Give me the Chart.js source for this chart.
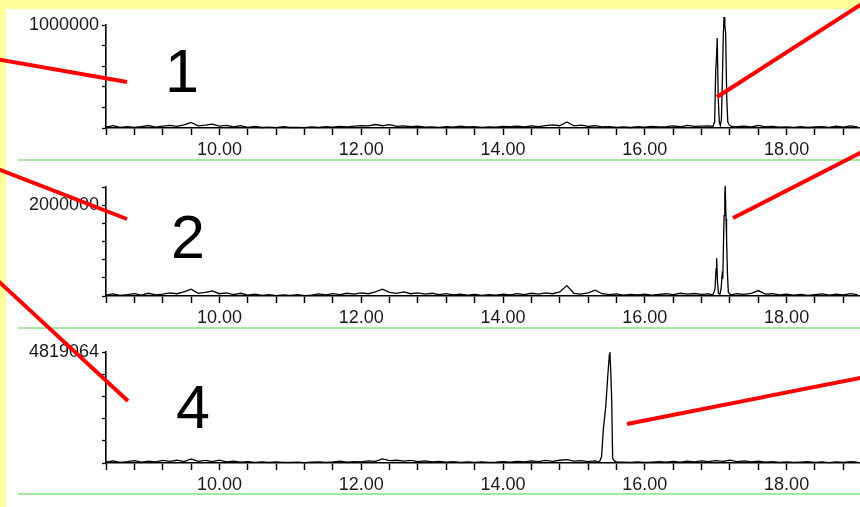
<!DOCTYPE html>
<html>
<head>
<meta charset="utf-8">
<script src="https://cdn.jsdelivr.net/npm/chart.js@4"></script>
<style>
  html, body { margin: 0; padding: 0; }
  body { width: 860px; height: 507px; background: #ffff99; position: relative; overflow: hidden; }
  #paper { position: absolute; left: 6px; top: 9px; width: 854px; height: 498px; background: #fff; }
  canvas { position: absolute; left: 0; top: 0; }
  #overlay { position: absolute; left: 0; top: 0; }
</style>
</head>
<body>
<div id="paper"></div>
<canvas id="c1" width="860" height="507"></canvas>
<canvas id="c2" width="860" height="507"></canvas>
<canvas id="c3" width="860" height="507"></canvas>
<svg id="overlay" width="860" height="507">
  <g stroke="#a6e89e" stroke-width="2">
    <line x1="18" y1="160" x2="860" y2="160"/>
    <line x1="18" y1="328" x2="860" y2="328"/>
    <line x1="18" y1="494" x2="860" y2="494"/>
  </g>
  <g font-family="'Liberation Sans', Arial, sans-serif" font-size="61" fill="#000" text-anchor="middle">
    <text x="182" y="92">1</text>
    <text x="188" y="258">2</text>
    <text x="193" y="428">4</text>
  </g>
  <g stroke="#ff0000" stroke-width="4" stroke-linecap="butt">
    <line x1="-10" y1="58" x2="127" y2="82"/>
    <line x1="717" y1="97" x2="868" y2="0"/>
    <line x1="-5" y1="168" x2="127" y2="219"/>
    <line x1="733" y1="218" x2="870" y2="148"/>
    <line x1="-5" y1="278" x2="128" y2="401"/>
    <line x1="627" y1="424" x2="870" y2="376"/>
  </g>
</svg>
<script>
// retention time (min) of the sampled baseline
const baseTimes = [
  8.4, 8.5, 8.6, 8.7, 8.8, 8.9,
  9.0, 9.1, 9.2, 9.3, 9.4, 9.5, 9.6, 9.7, 9.8, 9.9,
  10.0, 10.1, 10.2, 10.3, 10.4, 10.5, 10.6, 10.7, 10.8, 10.9,
  11.0, 11.1, 11.2, 11.3, 11.4, 11.5, 11.6, 11.7, 11.8, 11.9,
  12.0, 12.1, 12.2, 12.3, 12.4, 12.5, 12.6, 12.7, 12.8, 12.9,
  13.0, 13.1, 13.2, 13.3, 13.4, 13.5, 13.6, 13.7, 13.8, 13.9,
  14.0, 14.1, 14.2, 14.3, 14.4, 14.5, 14.6, 14.7, 14.8, 14.9,
  15.0, 15.1, 15.2, 15.3, 15.4, 15.5, 15.6, 15.7, 15.8, 15.9,
  16.0, 16.1, 16.2, 16.3, 16.4, 16.5, 16.6, 16.7, 16.8, 16.9,
  17.0, 17.1, 17.2, 17.3, 17.4, 17.5, 17.6, 17.7, 17.8, 17.9,
  18.0, 18.1, 18.2, 18.3, 18.4, 18.5, 18.6, 18.7, 18.8, 18.9,
  19.0
];

// chromatogram 1
const base1 = [
  8000, 22000, 6000, 12000, 5000, 14000,
  24000, 8000, 18000, 26000, 16000, 30000, 55000, 20000, 28000, 38000,
  18000, 26000, 10000, 22000, 6000, 15000, 5000, 8000, 4000, 12000,
  5000, 6000, 4000, 10000, 5000, 14000, 8000, 16000, 10000, 18000,
  24000, 20000, 34000, 22000, 32000, 15000, 20000, 12000, 18000, 8000,
  10000, 6000, 12000, 8000, 18000, 10000, 14000, 6000, 10000, 8000,
  15000, 12000, 18000, 10000, 20000, 14000, 24000, 30000, 22000, 58000,
  20000, 28000, 15000, 22000, 10000, 14000, 6000, 10000, 5000, 12000,
  8000, 15000, 10000, 14000, 20000, 12000, 25000, 15000, 18000, 20000,
  20000, 20000, 15000, 12000, 18000, 10000, 26000, 12000, 15000, 8000,
  10000, 6000, 12000, 5000, 10000, 14000, 6000, 18000, 8000, 20000,
  10000
];
const peakT1 = [16.96, 16.985, 17.0, 17.012, 17.021, 17.035, 17.05, 17.065, 17.08, 17.095, 17.107, 17.117, 17.128, 17.14, 17.155, 17.17, 17.19, 17.22];
const peakV1 = [15000, 60000, 560000, 700000, 874000, 300000, 60000, 25000, 80000, 500000, 900000, 1078000, 1000000, 922000, 300000, 60000, 30000, 15000];

// chromatogram 2
const base2 = [
  20000, 45000, 15000, 30000, 50000, 20000,
  60000, 25000, 40000, 70000, 50000, 90000, 150000, 60000, 80000, 110000,
  50000, 70000, 30000, 60000, 20000, 40000, 15000, 30000, 10000, 25000,
  15000, 30000, 10000, 20000, 45000, 25000, 50000, 30000, 60000, 40000,
  70000, 50000, 90000, 150000, 80000, 60000, 90000, 50000, 70000, 40000,
  60000, 30000, 50000, 25000, 40000, 20000, 35000, 15000, 30000, 20000,
  40000, 25000, 50000, 30000, 60000, 40000, 70000, 50000, 90000, 230000,
  60000, 40000, 70000, 130000, 50000, 30000, 45000, 20000, 35000, 25000,
  40000, 20000, 35000, 50000, 30000, 60000, 40000, 55000, 35000, 45000,
  40000, 40000, 30000, 50000, 35000, 60000, 120000, 40000, 50000, 25000,
  40000, 20000, 35000, 15000, 30000, 45000, 20000, 40000, 25000, 50000,
  30000
];
const peakT2 = [16.96, 16.99, 17.005, 17.013, 17.025, 17.04, 17.06, 17.075, 17.09, 17.1, 17.11, 17.118, 17.128, 17.134, 17.145, 17.153, 17.165, 17.178, 17.2, 17.22];
const peakV2 = [25000, 150000, 600000, 830000, 300000, 60000, 40000, 150000, 459000, 380000, 1200000, 1770000, 2200000, 2426000, 1700000, 1296000, 500000, 80000, 40000, 25000];

// chromatogram 4
const base3 = [
  40000, 90000, 30000, 60000, 100000, 40000,
  80000, 50000, 110000, 70000, 120000, 60000, 180000, 70000, 110000, 60000,
  120000, 50000, 80000, 40000, 60000, 30000, 50000, 25000, 45000, 30000,
  25000, 40000, 20000, 35000, 50000, 30000, 45000, 80000, 40000, 60000,
  50000, 90000, 70000, 180000, 100000, 120000, 80000, 110000, 60000, 90000,
  50000, 70000, 40000, 60000, 30000, 50000, 25000, 45000, 30000, 40000,
  60000, 40000, 70000, 50000, 90000, 60000, 110000, 70000, 120000, 150000,
  80000, 100000, 60000, 90000, 90000, 80000, 50000, 40000, 30000, 45000,
  25000, 40000, 60000, 35000, 70000, 40000, 80000, 50000, 90000, 60000,
  100000, 70000, 120000, 60000, 90000, 50000, 80000, 40000, 60000, 30000,
  50000, 25000, 40000, 60000, 30000, 45000, 20000, 50000, 30000, 60000,
  40000
];
const peakT3 = [15.36, 15.39, 15.415, 15.45, 15.478, 15.5, 15.508, 15.52, 15.532, 15.546, 15.57, 15.6];
const peakV3 = [40000, 280000, 1460000, 2490000, 3815000, 4700000, 4819064, 3900000, 2860000, 200000, 90000, 50000];

// axis ticks
const xTicks = [8.4, 8.8, 9.2, 9.6, 10, 10.4, 10.8, 11.2, 11.6, 12, 12.4, 12.8, 13.2, 13.6, 14, 14.4, 14.8, 15.2, 15.6, 16, 16.4, 16.8, 17.2, 17.6, 18, 18.4, 18.8];
const xLabels = [10, 12, 14, 16, 18];
const yTicks1 = [0, 200000, 400000, 600000, 800000, 1000000];
const yTicks2 = [0, 400000, 800000, 1200000, 1600000, 2000000, 2400000];
const yTicks3 = [0, 963812.8, 1927625.6, 2891438.4, 3855251.2, 4819064];

const fontFamily = '"Liberation Sans", Arial, sans-serif';

//Merge baseline samples and the dense peak samples into one trace
function buildTrace(base, peakT, peakV) {
    const pts = [];
    baseTimes.forEach((t, i) => {
        if (t < peakT[0] || t > peakT[peakT.length - 1]) pts.push({x: t, y: base[i]});
    });
    peakT.forEach((t, i) => pts.push({x: t, y: peakV[i]}));
    pts.sort((a, b) => a.x - b.x);
    return pts;
}

function makeChart(id, base, peakT, peakV, yMax, yTicks, yLabel, top, bottom) {
    const ctx = document.getElementById(id).getContext('2d');
    return new Chart(ctx, {
        type: 'line',
        data: {
            datasets: [{
                data: buildTrace(base, peakT, peakV),
                borderColor: '#000',
                borderWidth: 1.3,
                pointRadius: 0,
                tension: 0,
                clip: false
            }]
        },
        options: {
            responsive: false,
            animation: false,
            events: [],
            layout: { padding: { left: 0, right: 0, top: top, bottom: 507 - bottom - 30 } },
            plugins: { legend: { display: false }, tooltip: { enabled: false } },
            scales: {
                x: {
                    type: 'linear',
                    min: 8.4,
                    max: 19.035,
                    afterBuildTicks: (s) => { s.ticks = xTicks.map(v => ({value: v})); },
                    afterFit: (s) => { s.height = 30; },
                    border: { color: '#000', width: 1.6 },
                    grid: { drawOnChartArea: false, tickLength: 7, tickColor: '#000', tickWidth: 1.5 },
                    ticks: {
                        autoSkip: false,
                        maxRotation: 0,
                        padding: 4,
                        color: '#1a1a1a',
                        font: { family: fontFamily, size: 18 },
                        callback: (v) => xLabels.includes(v) ? v.toFixed(2) : ''
                    }
                },
                y: {
                    min: 0,
                    max: yMax,
                    afterBuildTicks: (s) => { s.ticks = yTicks.map(v => ({value: v})); },
                    afterFit: (s) => { s.width = 106; },
                    border: { color: '#000', width: 1.6 },
                    grid: { drawOnChartArea: false, tickLength: 4, tickColor: '#000', tickWidth: 1.3 },
                    ticks: {
                        autoSkip: false,
                        padding: 3,
                        color: '#1a1a1a',
                        font: { family: fontFamily, size: 18 },
                        callback: (v) => v === yLabel ? String(yLabel) : ''
                    }
                }
            }
        }
    });
}

makeChart('c1', base1, peakT1, peakV1, 1000000, yTicks1, 1000000, 25, 128);
makeChart('c2', base2, peakT2, peakV2, 2400000, yTicks2, 2000000, 187, 296);
makeChart('c3', base3, peakT3, peakV3, 4819064, yTicks3, 4819064, 352, 463);
</script>
</body>
</html>
